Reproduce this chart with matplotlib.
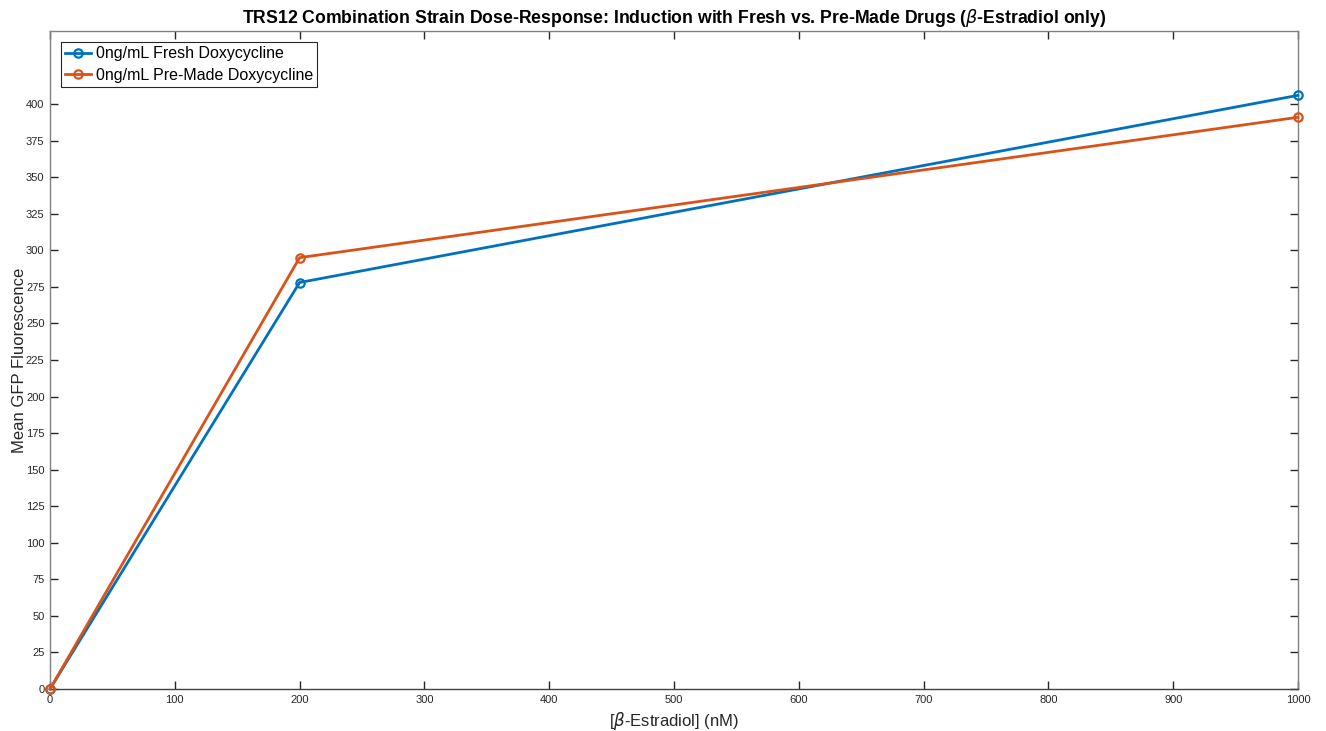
import matplotlib.pyplot as plt

# data
estradiol_nM = [0, 200, 1000]
fresh_gfp = [0, 278, 406]
premade_gfp = [0, 295, 391]
y_ticks = list(range(0, 401, 25))
x_ticks = list(range(0, 1001, 100))

plt.rcParams['font.family'] = ['Liberation Sans', 'DejaVu Sans']
plt.rcParams['mathtext.fontset'] = 'dejavusans'

fig = plt.figure(figsize=(13.26, 7.31), dpi=100)
ax = fig.add_axes([50 / 1326, 42 / 731, 1248 / 1326, 658 / 731])

ax.plot(estradiol_nM, fresh_gfp, '-o', color='#0072BD', lw=2, ms=6,
        mfc='none', mew=1.6, label='0ng/mL Fresh Doxycycline', clip_on=False, zorder=3)
ax.plot(estradiol_nM, premade_gfp, '-o', color='#D95319', lw=2, ms=6,
        mfc='none', mew=1.6, label='0ng/mL Pre-Made Doxycycline', clip_on=False, zorder=3)

ax.set_xlim(0, 1000)
ax.set_ylim(0, 450)
ax.set_xticks(x_ticks)
ax.set_yticks(y_ticks)
ax.tick_params(direction='in', length=6, width=1, colors='#262626', labelsize=8,
               top=True, right=True, pad=4)
for s in ax.spines.values():
    s.set_color('#808080')
    s.set_linewidth(1)
ax.spines['bottom'].set_color('#404040')

ax.set_title(r'TRS12 Combination Strain Dose-Response: Induction with Fresh vs. Pre-Made Drugs ($\beta$-Estradiol only)',
             fontsize=12.7, fontweight='bold', pad=6)
ax.set_xlabel(r'[$\beta$-Estradiol] (nM)', fontsize=12, color='#262626', labelpad=4)
ax.set_ylabel('Mean GFP Fluorescence', fontsize=12, color='#262626', labelpad=-1)

leg = ax.legend(loc='upper left', fontsize=11.5, fancybox=False, framealpha=1,
                edgecolor='#262626', borderaxespad=0.7, handlelength=1.6,
                handletextpad=0.3, borderpad=0.25, labelspacing=0.4)
leg.get_frame().set_linewidth(0.8)

fig.savefig('out.png', dpi=100)
